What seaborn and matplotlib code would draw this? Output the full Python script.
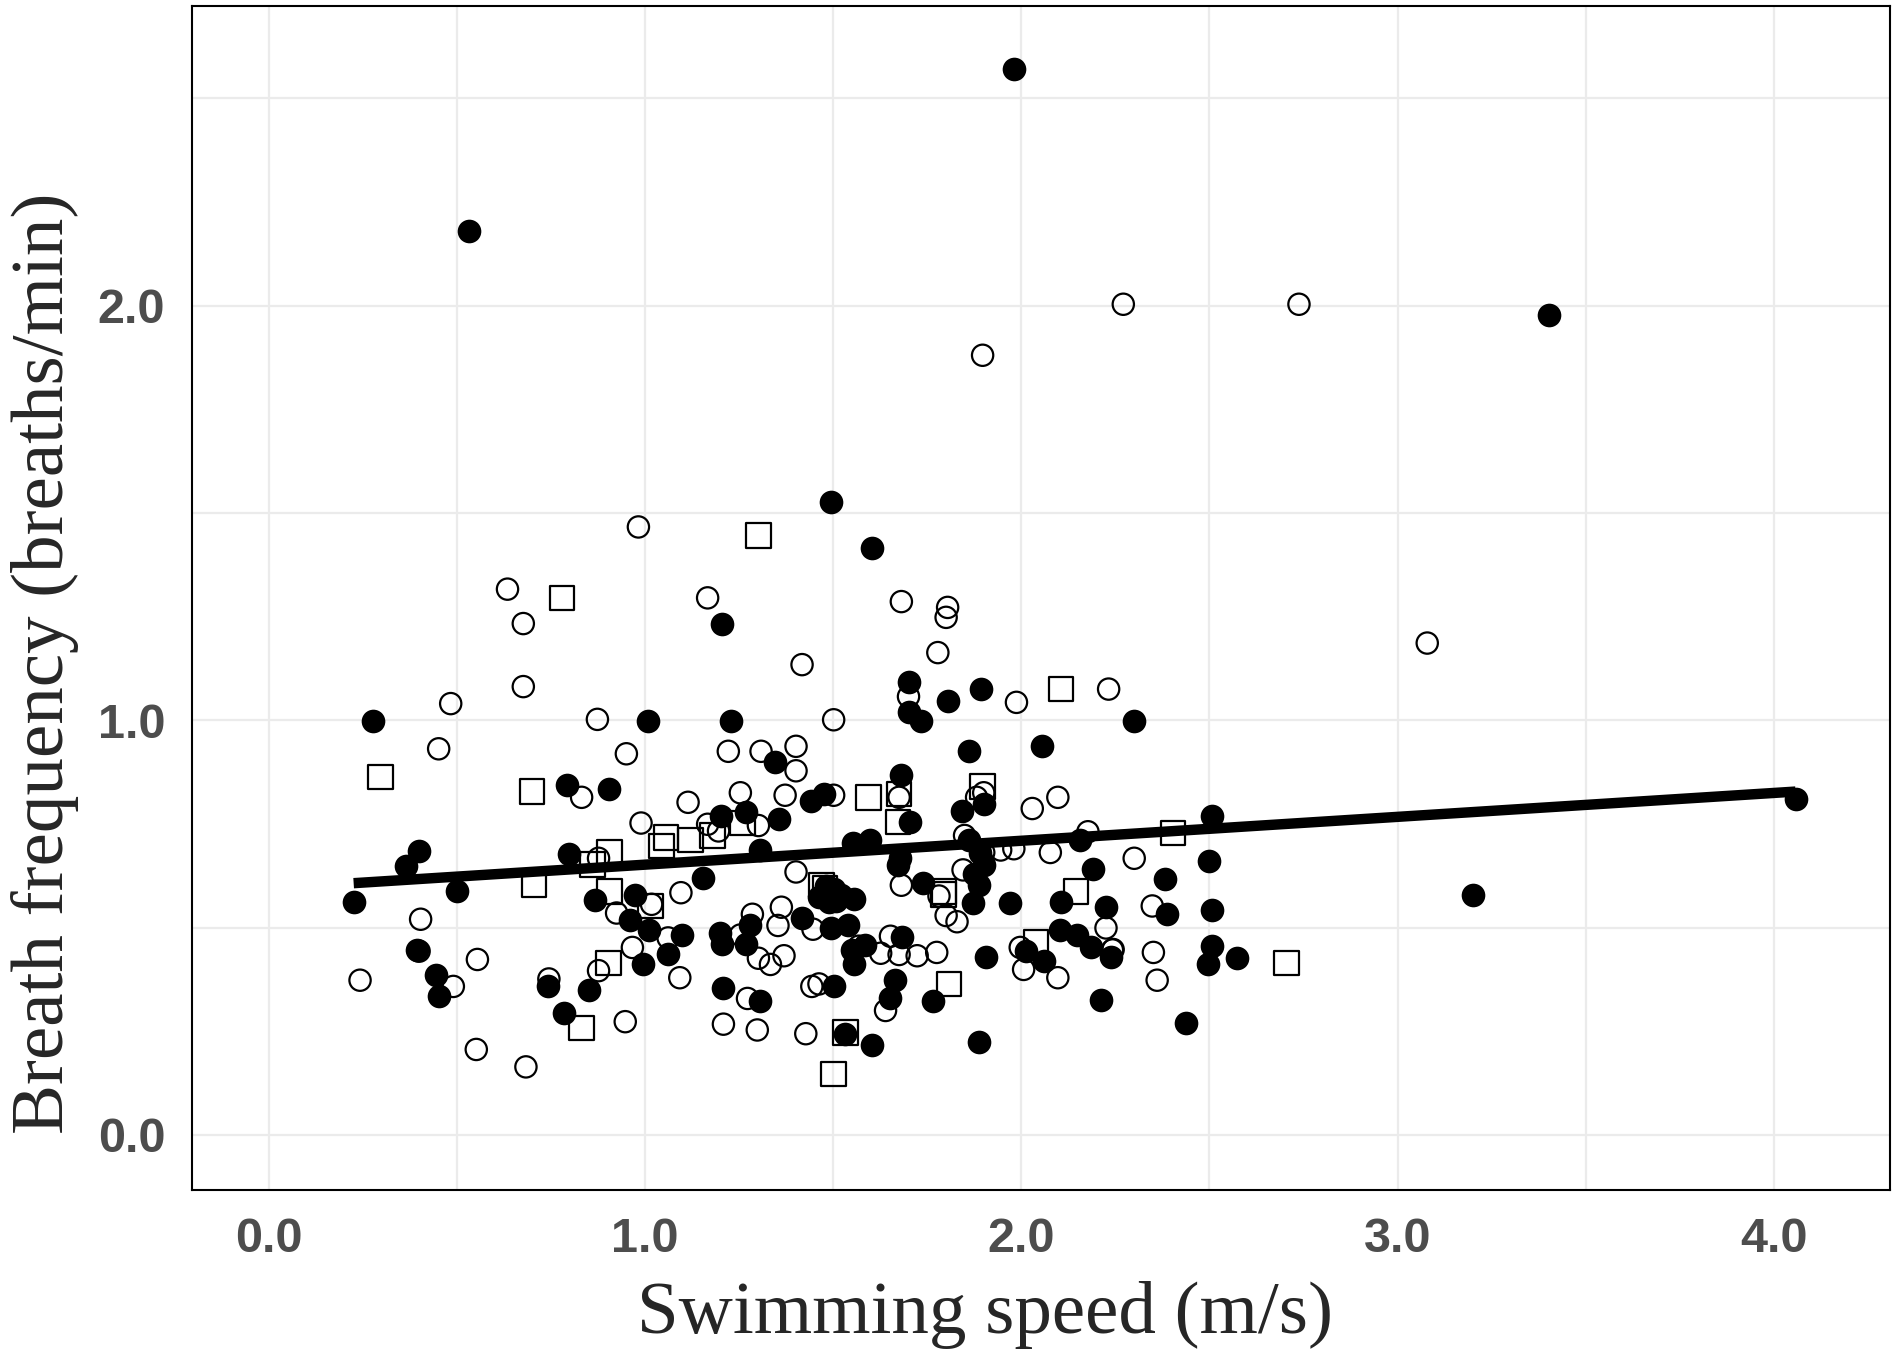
import numpy as np
import pandas as pd
import seaborn as sns
import matplotlib.pyplot as plt

# filled circles
filled_x = [0.225, 0.277, 0.364, 0.399, 0.393, 0.444, 0.451, 0.499, 0.531, 0.741,
            0.783, 0.792, 0.798, 0.85, 0.866, 0.905, 0.96, 0.973, 0.995, 1.008,
            1.011, 1.06, 1.098, 1.153, 1.205, 1.227, 1.201, 1.198, 1.205, 1.208,
            1.269, 1.269, 1.278, 1.304, 1.304, 1.346, 1.356, 1.417, 1.44, 1.462,
            1.475, 1.481, 1.488, 1.494, 1.501, 1.507, 1.494, 1.501, 1.52, 1.53,
            1.539, 1.552, 1.556, 1.549, 1.556, 1.585, 1.597, 1.604, 1.604, 1.652,
            1.665, 1.672, 1.678, 1.681, 1.684, 1.7, 1.7, 1.704, 1.733, 1.739,
            1.765, 1.804, 1.842, 1.861, 1.861, 1.871, 1.887, 1.887, 1.894, 1.9,
            1.9, 1.906, 1.981, 1.971, 2.055, 2.061, 2.106, 2.103, 2.148, 2.155,
            2.184, 2.19, 2.213, 2.225, 2.238, 2.3, 2.383, 2.386, 2.438, 2.496,
            2.499, 2.506, 2.506, 2.506, 2.573, 3.201, 3.404, 4.058, 2.012, 1.875,
            1.89]
filled_y = [0.561, 0.999, 0.649, 0.684, 0.446, 0.385, 0.335, 0.587, 2.179, 0.358,
            0.294, 0.843, 0.678, 0.349, 0.567, 0.834, 0.517, 0.579, 0.411, 0.999,
            0.493, 0.435, 0.482, 0.62, 1.231, 0.999, 0.769, 0.488, 0.461, 0.355,
            0.778, 0.461, 0.505, 0.323, 0.687, 0.899, 0.761, 0.523, 0.805, 0.573,
            0.822, 0.599, 0.561, 1.527, 0.593, 0.564, 0.499, 0.358, 0.579, 0.244,
            0.505, 0.705, 0.57, 0.446, 0.411, 0.458, 0.711, 1.416, 0.217, 0.329,
            0.373, 0.652, 0.667, 0.869, 0.476, 1.093, 1.019, 0.755, 0.999, 0.608,
            0.323, 1.046, 0.781, 0.925, 0.711, 0.558, 0.223, 0.602, 1.075, 0.652,
            0.799, 0.429, 2.57, 0.558, 0.937, 0.42, 0.561, 0.493, 0.482, 0.711,
            0.452, 0.64, 0.326, 0.549, 0.429, 0.999, 0.617, 0.532, 0.27, 0.411,
            0.661, 0.769, 0.543, 0.455, 0.426, 0.579, 1.977, 0.811, 0.443, 0.63,
            0.68]

# open circles
open_x = [0.242, 0.403, 0.451, 0.483, 0.49, 0.551, 0.554, 0.634, 0.676, 0.676,
          0.683, 0.744, 0.831, 0.873, 0.876, 0.876, 0.924, 0.947, 0.95, 0.982,
          0.989, 0.966, 1.092, 1.095, 1.114, 1.166, 1.166, 1.208, 1.221, 1.253,
          1.253, 1.272, 1.285, 1.301, 1.308, 1.298, 1.301, 1.333, 1.353, 1.362,
          1.369, 1.372, 1.401, 1.401, 1.401, 1.417, 1.427, 1.443, 1.446, 1.462,
          1.501, 1.501, 1.568, 1.639, 1.652, 1.626, 1.675, 1.681, 1.675, 1.681,
          1.7, 1.723, 1.775, 1.778, 1.8, 1.804, 1.8, 1.781, 1.829, 1.881,
          1.845, 1.849, 1.897, 1.9, 1.9, 1.945, 1.997, 1.987, 2.006, 2.029,
          2.077, 2.097, 2.097, 2.177, 2.225, 2.232, 2.242, 2.271, 2.3, 2.348,
          2.351, 2.361, 2.738, 3.079, 0.399, 1.98, 1.195, 1.061, 1.017, 2.244]
open_y = [0.373, 0.52, 0.931, 1.04, 0.358, 0.206, 0.423, 1.316, 1.233, 1.081,
          0.164, 0.376, 0.814, 1.002, 0.667, 0.396, 0.535, 0.273, 0.919, 1.466,
          0.752, 0.452, 0.379, 0.584, 0.802, 1.295, 0.749, 0.267, 0.925, 0.825,
          0.482, 0.329, 0.532, 0.426, 0.925, 0.253, 0.746, 0.411, 0.505, 0.549,
          0.432, 0.819, 0.937, 0.878, 0.634, 1.134, 0.244, 0.358, 0.496, 0.364,
          1.001, 0.819, 0.455, 0.3, 0.479, 0.438, 0.435, 1.286, 0.814, 0.602,
          1.057, 0.432, 0.44, 1.163, 1.248, 1.272, 0.529, 0.576, 0.514, 0.814,
          0.639, 0.722, 1.88, 0.825, 0.681, 0.687, 0.452, 1.043, 0.399, 0.787,
          0.681, 0.814, 0.379, 0.731, 0.499, 1.075, 0.446, 2.003, 0.667, 0.552,
          0.44, 0.373, 2.003, 1.186, 0.443, 0.69, 0.733, 0.475, 0.556, 0.447]

# open squares
square_x = [0.296, 0.699, 0.705, 0.779, 0.831, 0.86, 0.905, 0.905, 0.902, 1.014,
            1.043, 1.056, 1.121, 1.179, 1.259, 1.301, 1.469, 1.501, 1.533, 1.594,
            1.672, 1.675, 1.794, 1.807, 1.897, 2.039, 2.106, 2.145, 2.403, 2.705,
            1.478, 1.793]
square_y = [0.863, 0.828, 0.602, 1.295, 0.258, 0.652, 0.681, 0.587, 0.414, 0.552,
            0.696, 0.717, 0.711, 0.722, 0.752, 1.445, 0.602, 0.147, 0.247, 0.814,
            0.755, 0.822, 0.587, 0.364, 0.84, 0.464, 1.075, 0.587, 0.728, 0.414,
            0.596, 0.58]

x_ticks = [0, 1, 2, 3, 4]
x_tick_labels = ['0.0', '1.0', '2.0', '3.0', '4.0']
y_ticks = [0, 1, 2]
y_tick_labels = ['0.0', '1.0', '2.0']

df = pd.DataFrame({
    'speed': filled_x + open_x + square_x,
    'freq': filled_y + open_y + square_y,
    'group': ['filled'] * len(filled_x) + ['open'] * len(open_x) + ['square'] * len(square_x),
})

sns.set_style('white')
fig = plt.figure(figsize=(19, 13.54), dpi=100)
ax = fig.add_axes([0.1008, 0.1214, 0.8941, 0.8741])

# grid (major + minor)
for v in np.arange(0, 4.5, 0.5):
    ax.axvline(v, color='#EBEBEB', lw=1.6, zorder=0)
for v in np.arange(0, 3.0, 0.5):
    ax.axhline(v, color='#EBEBEB', lw=1.6, zorder=0)

sq = df[df.group == 'square']
op = df[df.group == 'open']
fi = df[df.group == 'filled']
sns.scatterplot(data=sq, x='speed', y='freq', marker='s', s=310,
                facecolor='none', edgecolor='black', linewidth=1.6, ax=ax, zorder=2)
sns.scatterplot(data=op, x='speed', y='freq', marker='o', s=235,
                facecolor='none', edgecolor='black', linewidth=1.6, ax=ax, zorder=3)
sns.scatterplot(data=fi, x='speed', y='freq', marker='o', s=290,
                color='black', edgecolor='black', linewidth=0, ax=ax, zorder=4)

# linear fit over all points
sns.regplot(data=df, x='speed', y='freq', scatter=False, ci=None, color='black',
            line_kws={'lw': 7.5, 'zorder': 5, 'solid_capstyle': 'butt'}, ax=ax)

ax.set_xlim(-0.206, 4.31)
ax.set_ylim(-0.132, 2.722)
ax.set_xticks(x_ticks)
ax.set_xticklabels(x_tick_labels)
ax.set_yticks(y_ticks)
ax.set_yticklabels(y_tick_labels)
ax.tick_params(axis='both', direction='out', length=12, width=1.5, color='#333333',
               labelsize=35, labelcolor='#4D4D4D')
ax.tick_params(axis='x', pad=8)
ax.tick_params(axis='y', pad=7)
for lab in ax.get_xticklabels() + ax.get_yticklabels():
    lab.set_fontweight('bold')
    lab.set_family('Liberation Sans')

for sp in ax.spines.values():
    sp.set_visible(True)
    sp.set_color('black')
    sp.set_linewidth(1.5)

ax.set_xlabel('Swimming speed (m/s)', fontsize=54, family='Liberation Serif')
ax.set_ylabel('Breath frequency (breaths/min)', fontsize=54, family='Liberation Serif')
ax.xaxis.set_label_coords(0.467, -0.077)
ax.yaxis.set_label_coords(-0.0665, 0.445)

fig.savefig('out.png', dpi=100, facecolor='white')
